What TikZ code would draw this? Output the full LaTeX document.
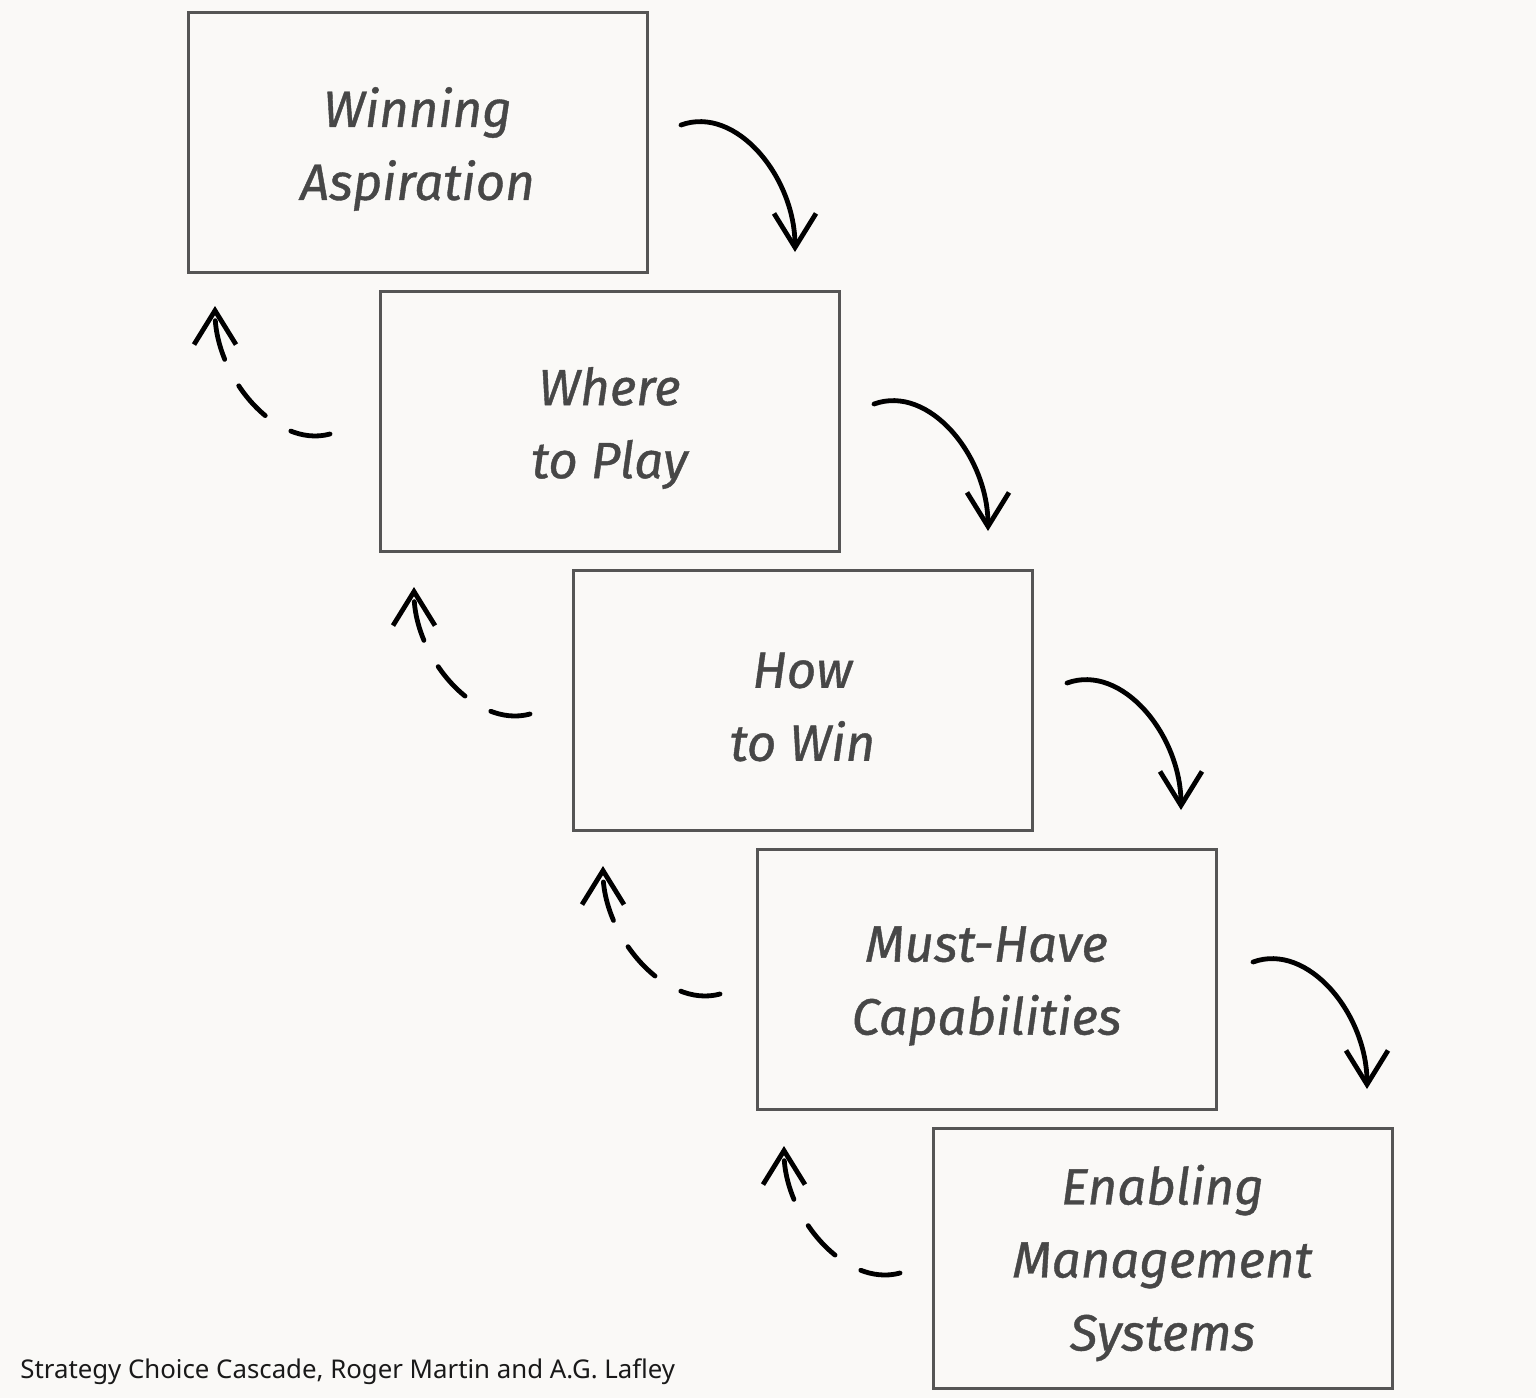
\documentclass[tikz,border=0pt]{standalone}
\usepackage{fontspec}
\setmainfont{Noto Sans}
\newfontfamily\hand{Fira Sans}[ItalicFeatures={FakeBold=0.8}]
\usetikzlibrary{arrows.meta}
\definecolor{bg}{HTML}{FAF9F7}
\definecolor{boxline}{HTML}{555555}
\definecolor{txt}{HTML}{474747}
\begin{document}
\begin{tikzpicture}[x=0.5pt,y=-0.5pt,
  box/.style={draw=boxline,line width=1.5pt,fill=bg,minimum width=229.5pt,minimum height=130pt,inner sep=0pt},
  lbl/.style={align=center,inner sep=0pt,text=txt,yshift=-3.5pt,
    font=\hand\itshape\fontsize{25.5}{36.5}\selectfont},
  fwd/.style={line width=2.4pt,line cap=round,line join=round,
    -{Straight Barb[length=17pt,width=21pt,line width=2.4pt]}},
  back/.style={fwd,dash pattern=on 20pt off 15pt,dash phase=0pt}]
\path[fill=bg] (0,0) rectangle (1536,1398);
\useasboundingbox (0,0) rectangle (1536,1398);

\node[box] (b1) at (417.5,142) {};
\node[box] (b2) at (609.5,421) {};
\node[box] (b3) at (802.5,700) {};
\node[box] (b4) at (986.5,979) {};
\node[box] (b5) at (1162.5,1258) {};
\node[lbl] (t1) at (b1) {Winning\\Aspiration};
\node[lbl] (t2) at (b2) {Where\\to Play};
\node[lbl] (t3) at (b3) {How\\to Win};
\node[lbl] (t4) at (b4) {Must-Have\\Capabilities};
\node[lbl,yshift=1pt] (t5) at (b5) {Enabling\\Management\\Systems};

% forward arrows
\coordinate (f1s) at (681,125); \coordinate (f1e) at (795,252);
\coordinate (f2s) at (874,404); \coordinate (f2e) at (988,531);
\coordinate (f3s) at (1067,683); \coordinate (f3e) at (1181,810);
\coordinate (f4s) at (1253,962); \coordinate (f4e) at (1367,1089);
\foreach \i in {1,2,3,4}{
  \draw[fwd] (f\i s) .. controls ++(55,-20) and ++(0,-75) .. (f\i e);
}

% back arrows
\coordinate (r1s) at (330,434); \coordinate (r1e) at (215,306);
\coordinate (r2s) at (530,714); \coordinate (r2e) at (414,587);
\coordinate (r3s) at (720,994); \coordinate (r3e) at (603,866);
\coordinate (r4s) at (900,1273); \coordinate (r4e) at (784,1146);
\foreach \i in {1,2,3,4}{
  \draw[back] (r\i s) .. controls ++(-55,15) and ++(0,70) .. (r\i e);
}

\node[anchor=base west,inner sep=0pt,font=\fontsize{12.9}{14}\selectfont,text=black!90] (cap) at (20,1378)
  {Strategy Choice Cascade, Roger Martin and A.G. Lafley};
\end{tikzpicture}
\end{document}
